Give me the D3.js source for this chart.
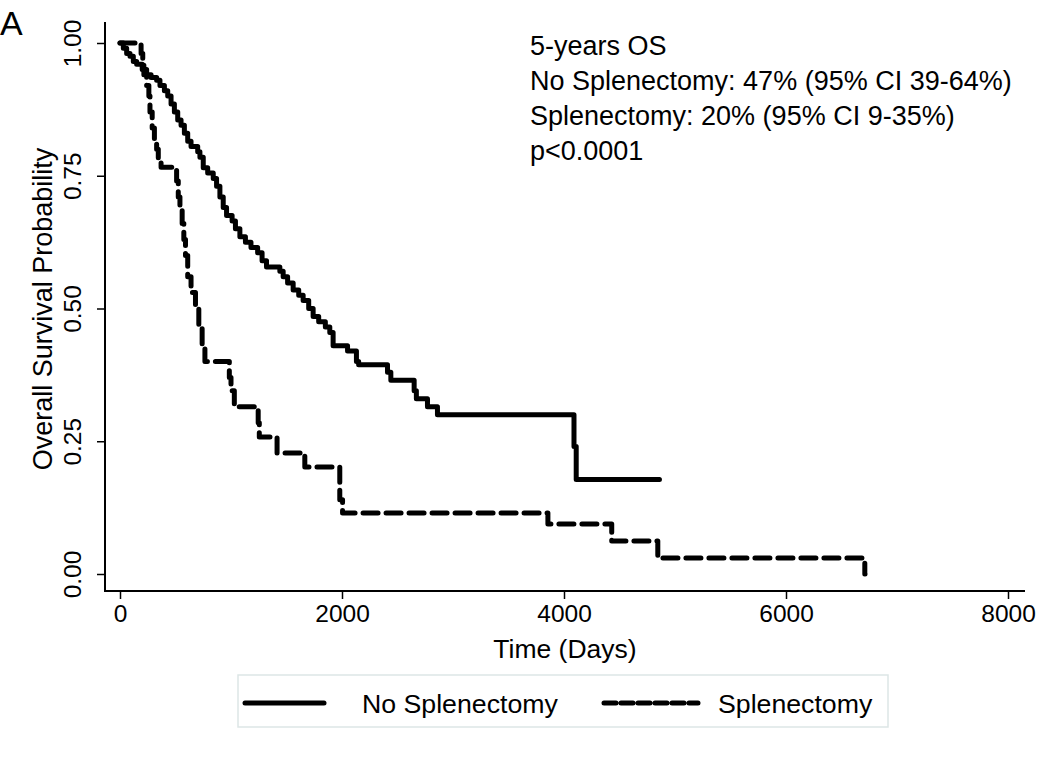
<!DOCTYPE html>
<html><head><meta charset="utf-8">
<script src="https://cdn.jsdelivr.net/npm/d3@7"></script>
<style>
html,body{margin:0;padding:0;background:#fff;}
text{font-family:"Liberation Sans",Arial,sans-serif;fill:#000;}
</style></head>
<body><svg id="c" width="1050" height="761"></svg>
<script>
// No Splenectomy (solid): time in days, survival after the drop
const noSplenTime = [0,30,60,90,120,150,200,240,280,330,360,400,430,460,490,520,550,580,610,640,700,720,750,790,840,870,900,930,960,1010,1040,1080,1130,1180,1240,1280,1320,1440,1470,1510,1560,1610,1650,1700,1740,1790,1850,1890,1920,2050,2130,2150,2410,2440,2650,2670,2770,2860,4090,4110,4860];
const noSplenSurv = [1.0,0.99,0.98,0.975,0.965,0.96,0.95,0.94,0.935,0.93,0.92,0.91,0.90,0.885,0.87,0.855,0.845,0.83,0.815,0.805,0.795,0.785,0.765,0.755,0.745,0.73,0.71,0.69,0.675,0.665,0.65,0.635,0.625,0.615,0.605,0.59,0.578,0.57,0.56,0.548,0.535,0.525,0.515,0.50,0.485,0.475,0.465,0.455,0.43,0.42,0.40,0.394,0.38,0.365,0.345,0.33,0.315,0.30,0.24,0.178,0.178];
// Splenectomy (dashed)
const splenTime = [0,190,205,215,240,260,270,290,310,330,345,370,510,525,540,560,575,590,610,640,680,710,740,765,985,1000,1030,1245,1255,1415,1665,1980,2005,3855,4430,4845,6710,6712];
const splenSurv = [1.0,0.98,0.96,0.94,0.92,0.90,0.87,0.84,0.82,0.80,0.78,0.766,0.74,0.71,0.685,0.66,0.63,0.60,0.56,0.53,0.50,0.47,0.43,0.40,0.37,0.345,0.315,0.285,0.258,0.228,0.2015,0.14,0.115,0.094,0.062,0.030,0.0,0.0];

const xTicks = [0,2000,4000,6000,8000];
const yTicks = [0,0.25,0.5,0.75,1.0];
const yTickLabels = ["0.00","0.25","0.50","0.75","1.00"];
const seriesNames = ["No Splenectomy","Splenectomy"];
const annotation = ["5-years OS","No Splenectomy: 47% (95% CI 39-64%)","Splenectomy: 20% (95% CI 9-35%)","p<0.0001"];
const panelLabel = "A";
const xTitle = "Time (Days)";
const yTitle = "Overall Survival Probability";

const svg = d3.select("#c");
const x = d3.scaleLinear().domain([0,8000]).range([120,1008]);
const y = d3.scaleLinear().domain([0,1]).range([574,43]);
const axisLeftX = 105, axisBottomY = 591;

// axes lines
svg.append("line").attr("x1",axisLeftX).attr("x2",axisLeftX).attr("y1",22).attr("y2",axisBottomY+1)
  .attr("stroke","#000").attr("stroke-width",2);
svg.append("line").attr("x1",axisLeftX-1).attr("x2",1025).attr("y1",axisBottomY).attr("y2",axisBottomY)
  .attr("stroke","#000").attr("stroke-width",2);

const gx = svg.append("g").attr("transform",`translate(0,${axisBottomY})`)
  .call(d3.axisBottom(x).tickValues(xTicks).tickFormat(d3.format("d")).tickSize(8).tickPadding(6));
gx.select(".domain").remove();
gx.selectAll(".tick line").attr("stroke","#000").attr("stroke-width",1.5);
gx.selectAll(".tick text").attr("font-size",24.5).attr("font-family","Liberation Sans, Arial, sans-serif");

const gy = svg.append("g").attr("transform",`translate(${axisLeftX},0)`)
  .call(d3.axisLeft(y).tickValues(yTicks).tickFormat((d,i)=>yTickLabels[i]).tickSize(8).tickPadding(6));
gy.select(".domain").remove();
gy.selectAll(".tick line").attr("stroke","#000").attr("stroke-width",1.5);
gy.selectAll(".tick text").attr("font-size",24.5).attr("font-family","Liberation Sans, Arial, sans-serif")
  .attr("text-anchor","middle").attr("dy",0).attr("x",0)
  .attr("transform","translate(-24,0) rotate(-90)");

// titles
svg.append("text").attr("x",565).attr("y",658).attr("text-anchor","middle").attr("font-size",26.5).text(xTitle);
svg.append("text").attr("transform","translate(52,309) rotate(-90)").attr("text-anchor","middle").attr("font-size",27).text(yTitle);
svg.append("text").attr("x",0).attr("y",35).attr("font-size",34).text(panelLabel);

// curves
const line = d3.line().x(d=>x(d[0])).y(d=>y(d[1])).curve(d3.curveStepAfter);
const solidData = noSplenTime.map((t,i)=>[t,noSplenSurv[i]]);
const dashData = splenTime.map((t,i)=>[t,splenSurv[i]]);
svg.append("path").attr("d",line(dashData)).attr("fill","none").attr("stroke","#000")
  .attr("stroke-width",5).attr("stroke-linecap","round").attr("stroke-linejoin","round").attr("stroke-dasharray","15,8");
svg.append("path").attr("d",line(solidData)).attr("fill","none").attr("stroke","#000")
  .attr("stroke-width",5).attr("stroke-linecap","round").attr("stroke-linejoin","round");

// annotation
svg.append("g").selectAll("text").data(annotation).join("text")
  .attr("x",530).attr("y",(d,i)=>55+i*35).attr("font-size",27).text(d=>d);

// legend
const lg = svg.append("g");
lg.append("rect").attr("x",238).attr("y",675).attr("width",650).attr("height",52)
  .attr("fill","#fff").attr("stroke","#dde6e6").attr("stroke-width",1.5);
lg.append("line").attr("x1",245).attr("x2",324).attr("y1",703).attr("y2",703)
  .attr("stroke","#000").attr("stroke-width",5).attr("stroke-linecap","round");
lg.append("text").attr("x",362).attr("y",713).attr("font-size",26.7).text(seriesNames[0]);
lg.append("line").attr("x1",604).attr("x2",698).attr("y1",703).attr("y2",703)
  .attr("stroke","#000").attr("stroke-width",5).attr("stroke-linecap","round").attr("stroke-dasharray","12,5");
lg.append("text").attr("x",718).attr("y",713).attr("font-size",26.7).text(seriesNames[1]);
</script></body></html>
